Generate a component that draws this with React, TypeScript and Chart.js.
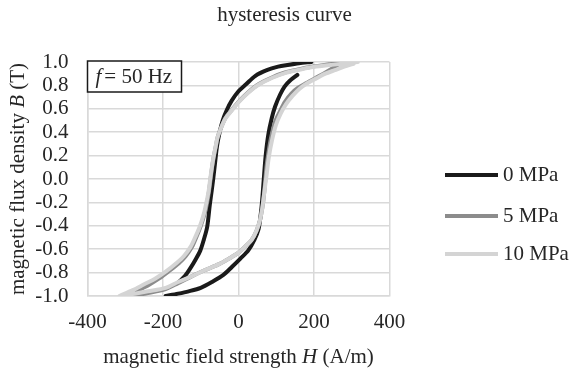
import React, { useEffect, useRef } from 'react';
import { Chart, registerables } from 'chart.js';

Chart.register(...registerables);

const TITLE = 'hysteresis curve';
const SERIES_NAMES = ['0 MPa', '5 MPa', '10 MPa'];
const SERIES_COLORS = ['#1a1a1a', '#8c8c8c', '#d4d4d4'];
const X_TICKS = [-400, -200, 0, 200, 400];
const Y_TICKS = [-1.0, -0.8, -0.6, -0.4, -0.2, 0.0, 0.2, 0.4, 0.6, 0.8, 1.0];

// 0 MPa
const H0_ASC = [-193, -160, -132, -100, -70, -40, -17, 5, 26, 42, 53, 59, 63, 67, 72, 79, 88, 97, 110, 122, 136, 156];
const B0_ASC = [-1.0, -0.98, -0.96, -0.93, -0.88, -0.82, -0.75, -0.68, -0.61, -0.52, -0.43, -0.30, -0.17, 0.0, 0.2, 0.38, 0.52, 0.62, 0.72, 0.79, 0.84, 0.89];
const H0_DESC = [193, 160, 130, 105, 75, 44, 20, 0, -18, -31, -42, -50, -57, -62, -67, -71, -76, -83, -92, -101, -114, -127, -142, -158];
const B0_DESC = [1.0, 0.99, 0.975, 0.96, 0.93, 0.88, 0.81, 0.75, 0.67, 0.59, 0.5, 0.4, 0.28, 0.14, 0.0, -0.1, -0.22, -0.41, -0.52, -0.61, -0.69, -0.76, -0.83, -0.88];

// 5 MPa
const H5_ASC = [-280, -240, -193, -160, -123, -90, -53, -25, 0, 20, 35, 48, 57, 63, 67, 70, 74, 79, 86, 97, 110, 123, 140, 158, 180, 202, 225, 246, 268];
const B5_ASC = [-1.0, -0.975, -0.94, -0.89, -0.83, -0.78, -0.73, -0.68, -0.63, -0.57, -0.52, -0.44, -0.35, -0.25, -0.15, -0.05, 0.1, 0.22, 0.35, 0.49, 0.58, 0.66, 0.73, 0.78, 0.82, 0.86, 0.9, 0.94, 0.985];
const H5_DESC = [276, 240, 193, 155, 123, 90, 53, 25, 0, -18, -35, -46, -55, -60, -65, -70, -74, -78, -83, -90, -101, -112, -123, -140, -158, -185, -210, -240, -263, -280];
const B5_DESC = [1.0, 0.98, 0.96, 0.935, 0.91, 0.87, 0.81, 0.74, 0.66, 0.59, 0.52, 0.44, 0.36, 0.28, 0.2, 0.1, 0.0, -0.1, -0.2, -0.3, -0.41, -0.5, -0.58, -0.66, -0.72, -0.79, -0.85, -0.91, -0.95, -1.0];

// 10 MPa
const H10_ASC = [-315, -275, -240, -193, -160, -123, -90, -53, -25, 0, 20, 35, 48, 57, 63, 67, 71, 75, 80, 88, 99, 112, 126, 143, 161, 183, 206, 230, 255, 280, 305];
const B10_ASC = [-1.0, -0.98, -0.96, -0.93, -0.88, -0.83, -0.78, -0.73, -0.68, -0.63, -0.57, -0.52, -0.44, -0.35, -0.25, -0.15, -0.05, 0.05, 0.18, 0.32, 0.46, 0.56, 0.64, 0.71, 0.77, 0.82, 0.86, 0.9, 0.93, 0.96, 0.985];
const H10_DESC = [316, 275, 230, 193, 155, 123, 90, 53, 25, 0, -18, -35, -47, -56, -61, -66, -71, -75, -79, -85, -92, -103, -115, -127, -145, -165, -192, -220, -250, -280, -315];
const B10_DESC = [1.0, 0.985, 0.97, 0.955, 0.93, 0.905, 0.865, 0.805, 0.735, 0.655, 0.585, 0.515, 0.43, 0.35, 0.27, 0.19, 0.09, 0.0, -0.1, -0.2, -0.3, -0.41, -0.5, -0.58, -0.66, -0.72, -0.79, -0.85, -0.9, -0.95, -1.0];

const FONT = '"Liberation Serif", "Times New Roman", serif';
const TEXT_COLOR = '#262626';
const FS = 21;

type Pt = { x: number; y: number | null };

function branch(h: number[], b: number[]): Pt[] {
  return h.map((x, i) => ({ x, y: b[i] }));
}
function loop(ha: number[], ba: number[], hd: number[], bd: number[]): Pt[] {
  return [...branch(ha, ba), { x: ha[ha.length - 1], y: null }, ...branch(hd, bd)];
}

type Part = { t: string; i?: boolean; gap?: number };

function drawRich(ctx: CanvasRenderingContext2D, parts: Part[], x: number, y: number, align: 'left' | 'center') {
  const fonts = parts.map((p) => `${p.i ? 'italic ' : ''}${FS}px ${FONT}`);
  let total = 0;
  const widths = parts.map((p, k) => {
    ctx.font = fonts[k];
    const w = ctx.measureText(p.t).width + (p.gap || 0);
    total += w;
    return w;
  });
  let cx = align === 'center' ? x - total / 2 : x;
  ctx.textAlign = 'left';
  ctx.textBaseline = 'middle';
  parts.forEach((p, k) => {
    ctx.font = fonts[k];
    ctx.fillText(p.t, cx, y);
    cx += widths[k];
  });
}

const annotations = {
  id: 'annotations',
  afterDraw(chart: any) {
    const ctx: CanvasRenderingContext2D = chart.ctx;
    const area = chart.chartArea;
    ctx.save();
    ctx.fillStyle = TEXT_COLOR;
    // title
    drawRich(ctx, [{ t: TITLE }], chart.width / 2 - 1, 15, 'center');
    // x axis title
    drawRich(ctx, [{ t: 'magnetic field strength ' }, { t: 'H', i: true }, { t: ' (A/m)' }], (area.left + area.right) / 2, 357, 'center');
    // y axis title
    ctx.save();
    ctx.translate(18, (area.top + area.bottom) / 2);
    ctx.rotate(-Math.PI / 2);
    drawRich(ctx, [{ t: 'magnetic flux density ' }, { t: 'B', i: true }, { t: ' (T)' }], 0, 0, 'center');
    ctx.restore();
    // frequency box
    ctx.fillStyle = '#ffffff';
    ctx.fillRect(area.left, area.top - 1, 94, 31);
    ctx.strokeStyle = '#1a1a1a';
    ctx.lineWidth = 1.5;
    ctx.strokeRect(area.left, area.top - 1, 94, 31);
    ctx.fillStyle = TEXT_COLOR;
    drawRich(ctx, [{ t: 'f', i: true, gap: 3 }, { t: '= 50 Hz' }], area.left + 8, area.top + 15, 'left');
    // legend
    const ys = [175, 216, 254];
    chart.data.datasets.forEach((ds: any, k: number) => {
      ctx.strokeStyle = ds.borderColor;
      ctx.lineWidth = 4;
      ctx.beginPath();
      ctx.moveTo(445, ys[k]);
      ctx.lineTo(498, ys[k]);
      ctx.stroke();
      ctx.fillStyle = TEXT_COLOR;
      drawRich(ctx, [{ t: ds.label }], 503, ys[k], 'left');
    });
    ctx.restore();
  },
};

export default function App() {
  const ref = useRef<HTMLCanvasElement | null>(null);
  useEffect(() => {
    document.body.style.margin = '0';
    if (!ref.current) return;
    const loops = [
      loop(H0_ASC, B0_ASC, H0_DESC, B0_DESC),
      loop(H5_ASC, B5_ASC, H5_DESC, B5_DESC),
      loop(H10_ASC, B10_ASC, H10_DESC, B10_DESC),
    ];
    const gridColor = '#d9d9d9';
    const chart = new Chart(ref.current, {
      type: 'scatter',
      data: {
        datasets: loops.map((data, k) => ({
          label: SERIES_NAMES[k],
          data,
          showLine: true,
          borderColor: SERIES_COLORS[k],
          backgroundColor: SERIES_COLORS[k],
          borderWidth: 4,
          pointRadius: 0,
          tension: 0.3,
          spanGaps: false,
          borderCapStyle: 'round',
          order: 2 - k,
        })),
      },
      options: {
        responsive: false,
        animation: false,
        layout: { padding: { left: 0, top: 62, right: 181.5, bottom: 0 } },
        plugins: {
          legend: { display: false },
          title: { display: false },
          tooltip: { enabled: false },
        },
        scales: {
          x: {
            type: 'linear',
            min: -400,
            max: 400,
            afterBuildTicks: (scale: any) => {
              scale.ticks = X_TICKS.map((v) => ({ value: v }));
            },
            afterFit: (scale: any) => {
              scale.height = 77;
            },
            grid: { color: gridColor, lineWidth: 1.5, drawTicks: false },
            border: { color: gridColor, width: 1.5 },
            ticks: {
              color: TEXT_COLOR,
              font: { family: FONT, size: FS },
              padding: 14,
              maxRotation: 0,
              autoSkip: false,
              callback: (v: any) => String(v),
            },
          },
          y: {
            type: 'linear',
            min: -1,
            max: 1,
            afterBuildTicks: (scale: any) => {
              scale.ticks = Y_TICKS.map((v) => ({ value: v }));
            },
            afterFit: (scale: any) => {
              scale.width = 87.5;
            },
            grid: { color: gridColor, lineWidth: 1.5, drawTicks: false },
            border: { color: gridColor, width: 1.5 },
            ticks: {
              color: TEXT_COLOR,
              font: { family: FONT, size: FS },
              padding: 19,
              autoSkip: false,
              callback: (v: any) => (Math.abs(Number(v)) < 1e-9 ? '0.0' : Number(v).toFixed(1)),
            },
          },
        },
      },
      plugins: [annotations],
    });
    return () => chart.destroy();
  }, []);
  return (
    <div style={{ position: 'absolute', left: 0, top: 0, width: 571, height: 373, background: '#ffffff' }}>
      <canvas ref={ref} width={571} height={373} style={{ display: 'block' }} />
    </div>
  );
}
